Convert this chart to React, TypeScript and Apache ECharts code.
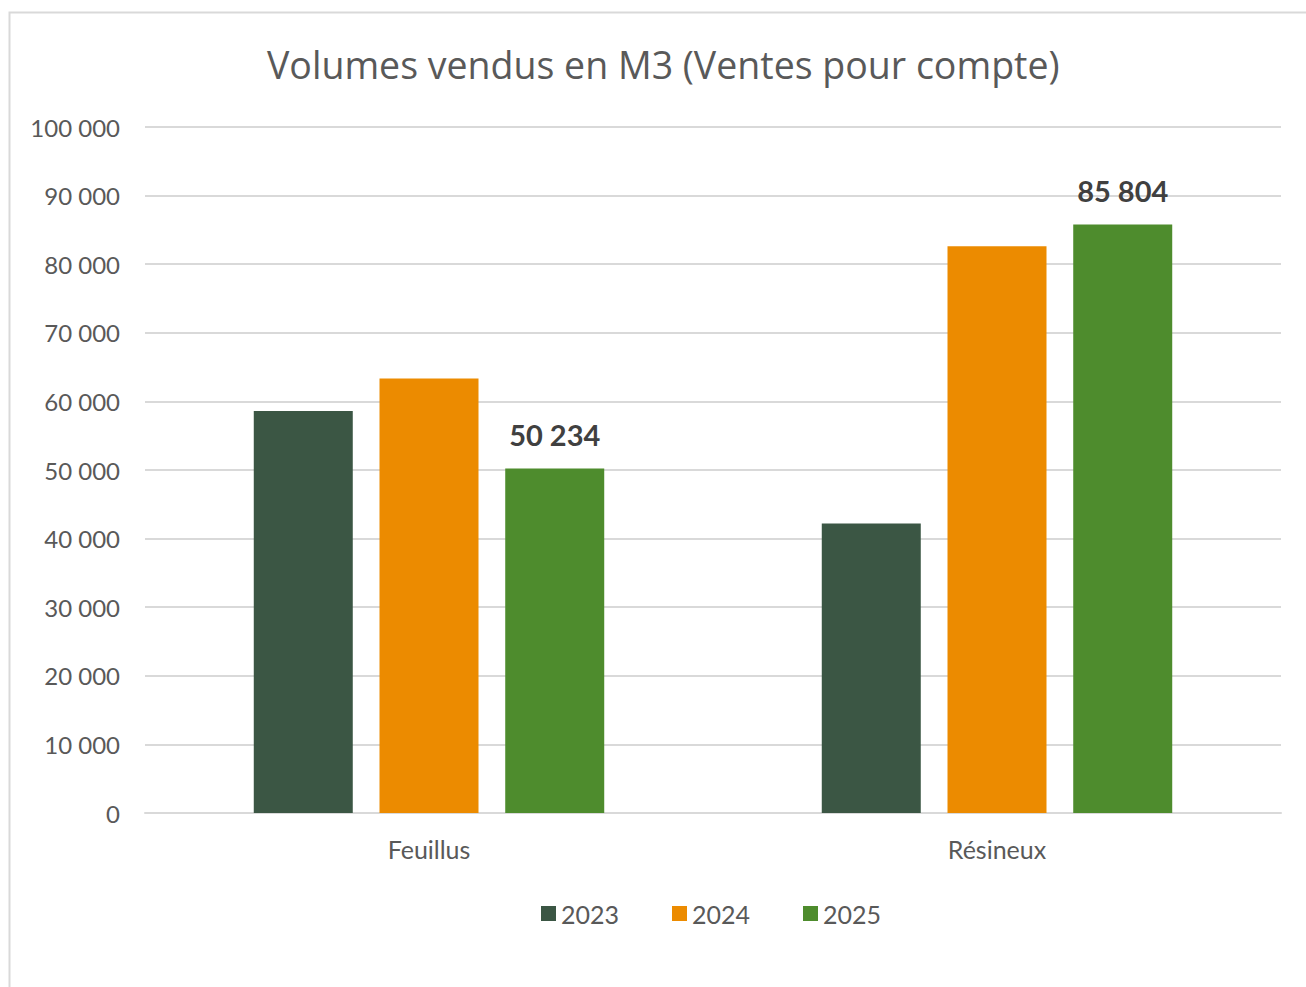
import React, { useEffect, useRef } from "react";
import * as echarts from "echarts";

const titleText = "Volumes vendus en M3 (Ventes pour compte)";
const categories = ["Feuillus", "Résineux"];
const seriesNames = ["2023", "2024", "2025"];
const values2023 = [58600, 42200];
const values2024 = [63350, 82600];
const values2025 = [50234, 85804];
const seriesColors = ["#3b5644", "#ec8b00", "#4e8c2d"];
const labelledSeries = [false, false, true];

const fmt = (v: number) => String(Math.round(v)).replace(/\B(?=(\d{3})+(?!\d))/g, " ");

export default function App() {
  const ref = useRef<HTMLDivElement>(null);
  useEffect(() => {
    if (!ref.current) return;
    const chart = echarts.init(ref.current, undefined, { renderer: "svg" });
    const font = "Lato, 'Noto Sans', sans-serif";
    const data = [values2023, values2024, values2025];
    chart.setOption({
      animation: false,
      backgroundColor: "#ffffff",
      textStyle: { fontFamily: font },
      title: {
        text: titleText,
        left: 262,
        top: 40,
        textStyle: { fontFamily: "'Open Sans', sans-serif", fontSize: 37.5, fontWeight: "normal", color: "#595959" },
      },
      graphic: [
        {
          type: "rect",
          shape: { x: 9.5, y: 12.5, width: 1400, height: 1100 },
          style: { fill: "none", stroke: "#d9d9d9", lineWidth: 2 },
          silent: true,
          z: -1,
        },
      ],
      legend: {
        bottom: 56,
        left: 536,
        itemWidth: 15,
        itemHeight: 15,
        itemGap: 53,
        icon: "rect",
        textStyle: { fontFamily: font, fontSize: 25, color: "#595959" },
        data: seriesNames,
      },
      grid: { left: 145, right: 25, top: 127, bottom: 174, containLabel: false },
      xAxis: {
        type: "category",
        data: categories,
        axisLine: { show: true, lineStyle: { color: "#d9d9d9", width: 2 } },
        axisTick: { show: false },
        axisLabel: { fontFamily: font, fontSize: 25, color: "#595959", margin: 23 },
      },
      yAxis: {
        type: "value",
        min: 0,
        max: 100000,
        interval: 10000,
        axisLine: { show: false },
        axisTick: { show: false },
        splitLine: { lineStyle: { color: "#d9d9d9", width: 2 } },
        axisLabel: { fontFamily: font, fontSize: 24, color: "#595959", margin: 25, formatter: (v: number) => fmt(v) },
      },
      series: seriesNames.map((name, i) => ({
        name,
        type: "bar",
        data: data[i],
        barWidth: 99,
        barGap: "27%",
        itemStyle: { color: seriesColors[i] },
        label: {
          show: labelledSeries[i],
          position: "top",
          distance: 19,
          fontFamily: font,
          fontSize: 29,
          fontWeight: "bold",
          color: "#404040",
          formatter: (p: any) => fmt(p.value),
        },
      })),
    });
    return () => chart.dispose();
  }, []);
  return <div ref={ref} style={{ position: "fixed", left: 0, top: 0, width: 1306, height: 987 }} />;
}
